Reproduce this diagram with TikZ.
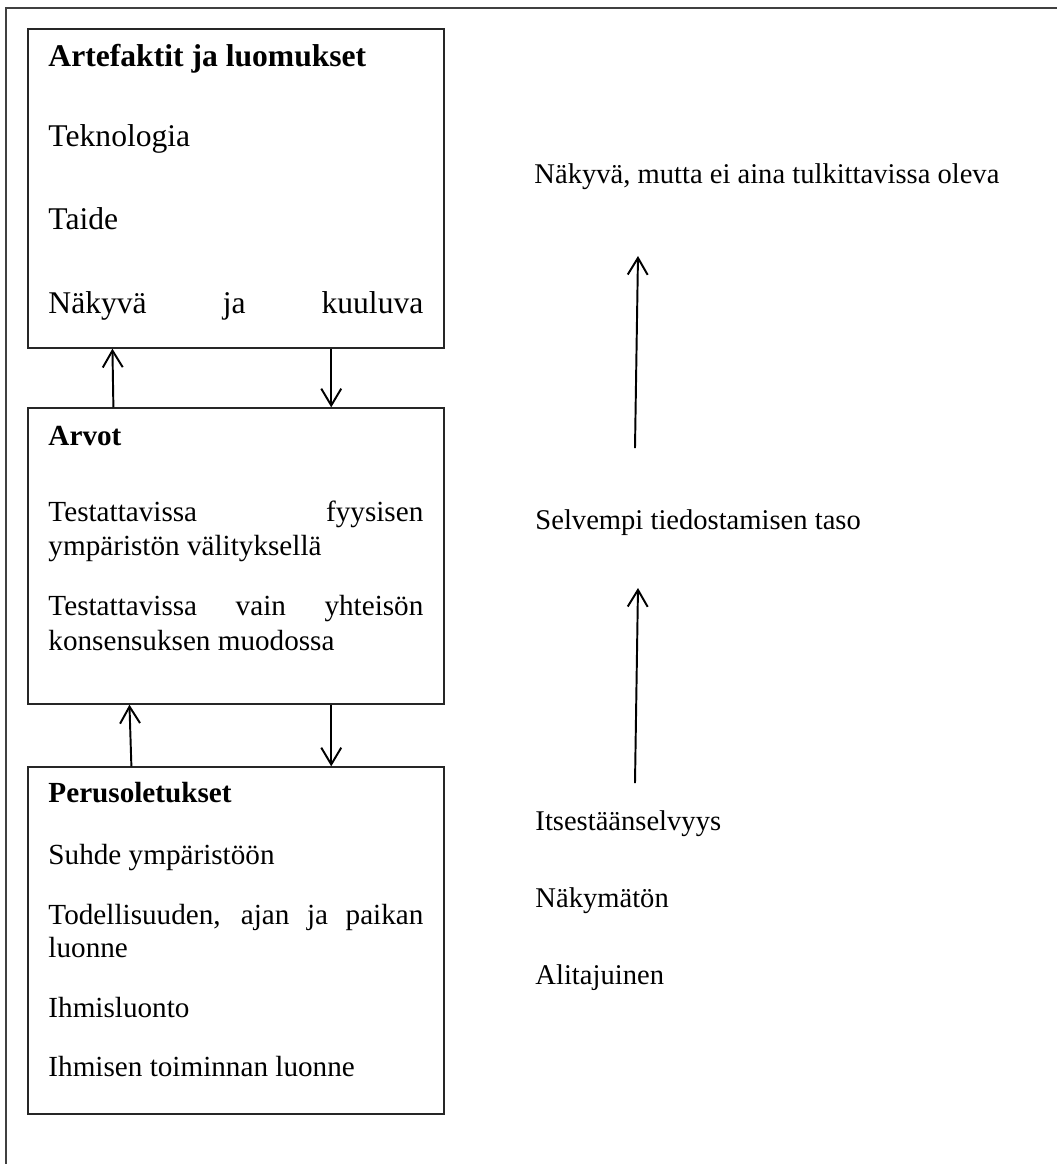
\documentclass[tikz,border=0pt]{standalone}
\usepackage{fontspec}
\setmainfont{Liberation Serif}
\usetikzlibrary{arrows.meta, positioning, fit}
\newcommand\jst[1]{\makebox[154.2pt][s]{#1}}

\begin{document}
\begin{tikzpicture}[
    x=0.4113pt, y=-0.4113pt,
    layer/.style={draw=black!85, line width=0.55pt, inner sep=0pt},
    txt/.style={anchor=base west, inner sep=0pt, font=\fontsize{12}{13.8}\selectfont},
    bigtxt/.style={txt, font=\fontsize{13}{15}\selectfont},
    sidetxt/.style={txt, font=\fontsize{11.75}{13.5}\selectfont},
    arr/.style={-{Straight Barb[length=6.9pt, width=8.2pt, line width=0.8pt]},
                line width=0.8pt, black}
  ]
    \useasboundingbox (0,0) rectangle (1057,1164);
    \draw[black!75, line width=0.6pt] (1070,8) -| (6,1180);

    % levels
    \node[layer, fit={(28,29) (444,348)}] (art) {};
    \node[layer, fit={(28,408) (444,704)}] (arvot) {};
    \node[layer, fit={(28,767) (444,1114)}] (perus) {};

    \node[bigtxt] (artT) at (48,66.7) {\textbf{Artefaktit ja luomukset}};
    \node[bigtxt] (tekn) at (48,146.7) {Teknologia};
    \node[bigtxt] (taide) at (48,229.3) {Taide};
    \node[bigtxt] (nakyva) at (48,313.3) {\jst{Näkyvä ja kuuluva}};

    \node[txt] (arvotT) at (48,445) {\textbf{Arvot}};
    \node[txt] (fyys1) at (48,521.7) {\jst{Testattavissa fyysisen}};
    \node[txt] (fyys2) at (48,555.7) {ympäristön välityksellä};
    \node[txt] (kons1) at (48,615) {\jst{Testattavissa vain yhteisön}};
    \node[txt] (kons2) at (48,650) {konsensuksen muodossa};

    \node[txt] (perusT) at (48,802.7) {\textbf{Perusoletukset}};
    \node[txt] (suhde) at (48,864) {Suhde ympäristöön};
    \node[txt] (todel1) at (48,924) {\jst{Todellisuuden, ajan ja paikan}};
    \node[txt] (todel2) at (48,957.3) {luonne};
    \node[txt] (ihmis) at (48,1017.3) {Ihmisluonto};
    \node[txt] (toimin) at (48,1076.7) {Ihmisen toiminnan luonne};

    % awareness scale
    \node[sidetxt] (vis) at (534,183) {Näkyvä, mutta ei aina tulkittavissa oleva};
    \node[sidetxt] (selv) at (535,529) {Selvempi tiedostamisen taso};
    \node[sidetxt] (itse) at (535,830) {Itsestäänselvyys};
    \node[sidetxt] (nakym) at (535,907) {Näkymätön};
    \node[sidetxt] (alit) at (535,984) {Alitajuinen};

    \coordinate (up1s) at (635,448);
    \coordinate (up1e) at (638,256);
    \coordinate (up2s) at (635,783);
    \coordinate (up2e) at (638,588);

    \draw[arr] ([xshift=35.4pt]arvot.north west) -- ([xshift=35pt]art.south west);
    \draw[arr] ([xshift=125pt]art.south west) -- ([xshift=125pt]arvot.north west);
    \draw[arr] ([xshift=42.8pt]perus.north west) -- ([xshift=42pt]arvot.south west);
    \draw[arr] ([xshift=125pt]arvot.south west) -- ([xshift=125pt]perus.north west);
    \draw[arr] (up1s) -- (up1e);
    \draw[arr] (up2s) -- (up2e);
  \end{tikzpicture}
\end{document}
